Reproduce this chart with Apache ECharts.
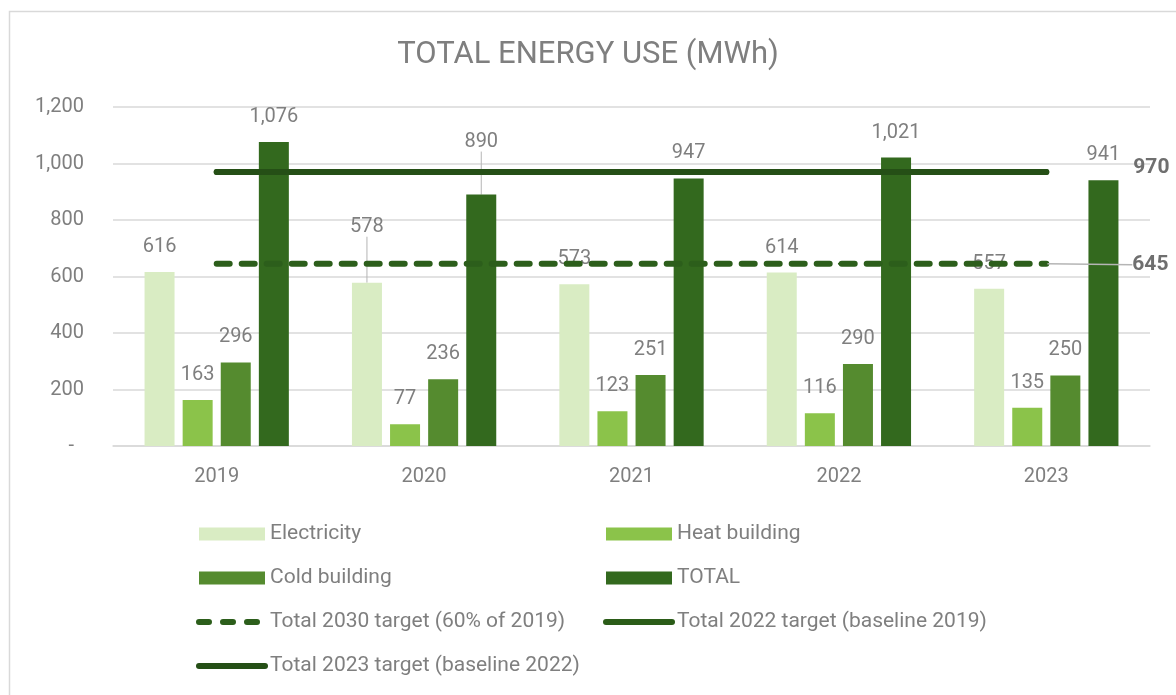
<!DOCTYPE html>
<html>
<head>
<meta charset="utf-8">
<title>Total energy use</title>
<script src="https://cdn.jsdelivr.net/npm/echarts@6/dist/echarts.min.js"></script>
<style>
    html, body { margin: 0; padding: 0; background: #ffffff; }
    #chart { width: 1176px; height: 695px; }
</style>
</head>
<body>
<div id="chart"></div>
<script>
// data
const years = ['2019', '2020', '2021', '2022', '2023'];
const electricity = [616, 578, 573, 614, 557];
const heatBuilding = [163, 77, 123, 116, 135];
const coldBuilding = [296, 236, 251, 290, 250];
const total = [1076, 890, 947, 1021, 941];
const target2030 = [645, 645, 645, 645, 645];
const target2022 = [970, 970, 970, 970, 970];
const target2023 = [970, 970, 970, 970, 970];
const yTickLabels = ['-  ', '200', '400', '600', '800', '1,000', '1,200'];

// labels that Excel pushed up with a leader line: [series, year index]
const movedLabels = [['Electricity', 1], ['TOTAL', 1]];

document.addEventListener('DOMContentLoaded', function () {
    const myChart = echarts.init(document.getElementById('chart'));

    const font = 'Roboto, "Open Sans", sans-serif';
    const grey = '#7f7f7f';
    const dash = [13, 12];

    const barData = (name, values) => values.map((v, i) => {
        const moved = movedLabels.some(m => m[0] === name && m[1] === i);
        return moved ? { value: v, labelLine: { show: true } } : v;
    });

    const barSeries = (name, values, color) => ({
        name: name,
        type: 'bar',
        barWidth: 30,
        barGap: '27%',
        itemStyle: { color: color },
        label: {
            show: true,
            position: 'top',
            distance: 15,
            color: grey,
            fontFamily: font,
            fontSize: 20,
            formatter: p => p.value.toLocaleString('en-US')
        },
        labelLine: { show: false, lineStyle: { color: '#b5b5b5', width: 1 } },
        labelLayout: function (p) {
            if (name === 'Electricity' && p.dataIndex === 1) return { dy: -31 };
            if (name === 'TOTAL' && p.dataIndex === 1) return { dy: -28 };
            return {};
        },
        data: barData(name, values)
    });

    // target lines; the last point carries the value label at the right
    const lineSeries = (name, values, color, dashed, showLabel, labelDx, labelDy, leader) => ({
        name: name,
        type: 'line',
        symbol: 'circle',
        symbolSize: 2,
        showSymbol: true,
        z: 5,
        lineStyle: {
            color: color,
            width: 6,
            type: dashed ? dash : 'solid',
            cap: 'round'
        },
        itemStyle: { color: color },
        label: { show: false },
        labelLine: { show: leader, lineStyle: { color: '#b5b5b5', width: 1.5 } },
        labelLayout: { dx: labelDx, dy: labelDy },
        data: values.map((v, i) => (showLabel && i === values.length - 1) ? {
            value: v,
            label: {
                show: true,
                position: 'right',
                distance: 4,
                color: '#6f6f6f',
                fontWeight: 'bold',
                fontFamily: font,
                fontSize: 21
            }
        } : v)
    });

    const legendText = { color: grey, fontFamily: font, fontSize: 21, lineHeight: 24 };
    const lineItem = (name, dashed) => ({
        name: name,
        itemStyle: { opacity: 0 },
        lineStyle: { width: 6, cap: 'round', type: dashed ? [10, 14] : 'solid' }
    });

    const option = {
        animation: false,
        title: {
            text: 'TOTAL ENERGY USE (MWh)',
            left: 'center',
            top: 35,
            textStyle: { color: grey, fontFamily: font, fontSize: 31, fontWeight: 'normal' }
        },
        graphic: [{
            type: 'rect',
            left: 7,
            top: 9,
            shape: { width: 1200, height: 720 },
            style: { fill: 'none', stroke: '#d9d9d9', lineWidth: 1.5 },
            silent: true
        }],
        legend: [{
            orient: 'vertical',
            left: 196,
            top: 522,
            padding: 0,
            itemWidth: 66,
            itemHeight: 13,
            itemGap: 20,
            textStyle: legendText,
            data: [
                { name: 'Electricity', icon: 'rect' },
                { name: 'Cold building', icon: 'rect' },
                lineItem('Total 2030 target (60% of 2019)', true),
                lineItem('Total 2023 target (baseline 2022)', false)
            ]
        }, {
            orient: 'vertical',
            left: 603,
            top: 522,
            padding: 0,
            itemWidth: 66,
            itemHeight: 13,
            itemGap: 20,
            textStyle: legendText,
            data: [
                { name: 'Heat building', icon: 'rect' },
                { name: 'TOTAL', icon: 'rect' },
                lineItem('Total 2022 target (baseline 2019)', false)
            ]
        }],
        grid: { left: 113, right: 26, top: 107, bottom: 249 },
        xAxis: {
            type: 'category',
            data: years,
            axisLine: { lineStyle: { color: '#d9d9d9', width: 1.5 } },
            axisTick: { show: false },
            axisLabel: { color: grey, fontFamily: font, fontSize: 20, margin: 21 }
        },
        yAxis: {
            type: 'value',
            min: 0,
            max: 1200,
            interval: 200,
            axisLine: { show: false },
            axisTick: { show: false },
            splitLine: { lineStyle: { color: '#d9d9d9', width: 1.5 } },
            axisLabel: {
                color: grey,
                fontFamily: font,
                fontSize: 20,
                margin: 29,
                formatter: v => yTickLabels[Math.round(v / 200)]
            }
        },
        series: [
            barSeries('Electricity', electricity, '#d9ecc3'),
            barSeries('Heat building', heatBuilding, '#8bc34a'),
            barSeries('Cold building', coldBuilding, '#558b2f'),
            barSeries('TOTAL', total, '#33691e'),
            lineSeries('Total 2030 target (60% of 2019)', target2030, '#2c5e1b', true, true, 81, 1, true),
            lineSeries('Total 2022 target (baseline 2019)', target2022, '#2b5c18', false, false, 80, 0, false),
            lineSeries('Total 2023 target (baseline 2022)', target2023, '#254f16', false, true, 82, -4, false)
        ]
    };

    myChart.setOption(option);
});
</script>
</body>
</html>
